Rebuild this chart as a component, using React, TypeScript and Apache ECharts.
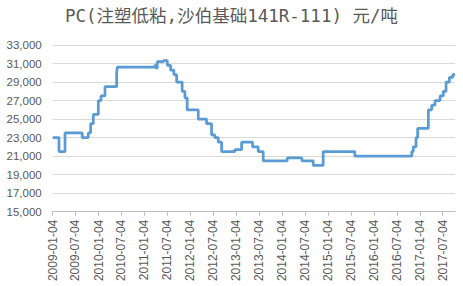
import React, { useEffect, useRef } from "react";
import * as echarts from "echarts";

const titleText = "PC(注塑低粘,沙伯基础141R-111) 元/吨";
const startDate = "2009-01-04";
const endDate = "2017-10-10";
const yTicks = [15000, 17000, 19000, 21000, 23000, 25000, 27000, 29000, 31000, 33000];

const changeDates = [
  "2009-01-04", "2009-02-23", "2009-04-12", "2009-08-27", "2009-10-14", "2009-11-02",
  "2009-11-23", "2010-01-02", "2010-01-23", "2010-02-24", "2010-05-28", "2010-06-02",
  "2011-03-29", "2011-04-08", "2011-04-16", "2011-06-03", "2011-07-05", "2011-07-31",
  "2011-08-26", "2011-09-17", "2011-10-31", "2011-11-22", "2011-12-10", "2012-03-07",
  "2012-05-12", "2012-06-21", "2012-07-17", "2012-08-13", "2012-09-09", "2012-12-24",
  "2013-02-15", "2013-05-13", "2013-06-27", "2013-08-06", "2014-02-13", "2014-06-10",
  "2014-09-08", "2014-11-26", "2015-08-05", "2016-10-31", "2016-11-12", "2016-12-04",
  "2016-12-17", "2017-03-12", "2017-04-08", "2017-05-04", "2017-06-13", "2017-07-09",
  "2017-07-31", "2017-08-26", "2017-09-22", "2017-10-10",
];
const prices = [
  23000, 21500, 23500, 23000, 23500, 24500,
  25500, 27000, 27500, 28500, 30000, 30600,
  30800, 30500, 31200, 31300, 30800, 30300,
  29800, 29000, 28000, 27300, 26000, 25000,
  24500, 23300, 23000, 22500, 21500, 21700,
  22500, 22000, 21500, 20500, 20800, 20500,
  20000, 21500, 21000, 21500, 22000, 23000,
  24000, 26000, 26500, 27000, 27500, 28000,
  29000, 29500, 29800, 29800,
];

function buildDays(a: string, b: string): string[] {
  const out: string[] = [];
  const t0 = Date.parse(a + "T00:00:00Z");
  const t1 = Date.parse(b + "T00:00:00Z");
  for (let t = t0; t <= t1; t += 86400000) {
    out.push(new Date(t).toISOString().slice(0, 10));
  }
  return out;
}

const isMajor = (_i: number, v: string) => v.endsWith("-01-04") || v.endsWith("-07-04");

export default function App() {
  const ref = useRef<HTMLDivElement>(null);
  useEffect(() => {
    if (!ref.current) return;
    const chart = echarts.init(ref.current, null, { renderer: "svg" });
    const days = buildDays(startDate, endDate);
    chart.setOption({
      animation: false,
      title: {
        text: titleText,
        left: "center",
        top: 2,
        textStyle: {
          fontFamily: "'DejaVu Sans Mono', 'Noto Sans CJK SC'",
          fontSize: 17.5,
          fontWeight: "normal",
          color: "#595959",
        },
      },
      grid: { left: 52.7, right: 8, top: 45, bottom: 74.3, containLabel: false },
      xAxis: {
        type: "category",
        data: days,
        boundaryGap: false,
        axisLine: { lineStyle: { color: "#bfbfbf", width: 1 } },
        axisTick: { show: true, interval: isMajor, length: 4, lineStyle: { color: "#bfbfbf" } },
        axisLabel: {
          interval: isMajor,
          rotate: 90,
          margin: 8,
          color: "#595959",
          fontSize: 12,
          fontFamily: "Liberation Sans",
        },
        splitLine: { show: false },
      },
      yAxis: {
        type: "value",
        min: yTicks[0],
        max: yTicks[yTicks.length - 1],
        interval: 2000,
        axisLine: { show: false },
        axisTick: { show: false },
        axisLabel: {
          color: "#595959",
          fontSize: 11.5,
          fontFamily: "Liberation Sans",
          margin: 11,
          formatter: (v: number) => v.toLocaleString("en-US"),
        },
        splitLine: { lineStyle: { color: "#d9d9d9", width: 1 } },
      },
      series: [
        {
          type: "line",
          step: "end",
          showSymbol: false,
          data: changeDates.map((d, i) => [d, prices[i]]),
          lineStyle: { color: "#5b9bd5", width: 2.75 },
          itemStyle: { color: "#5b9bd5" },
        },
      ],
    });
    return () => chart.dispose();
  }, []);
  return (
    <div
      ref={ref}
      style={{ position: "absolute", left: 0, top: 0, width: 463, height: 286, background: "#fff" }}
    />
  );
}
